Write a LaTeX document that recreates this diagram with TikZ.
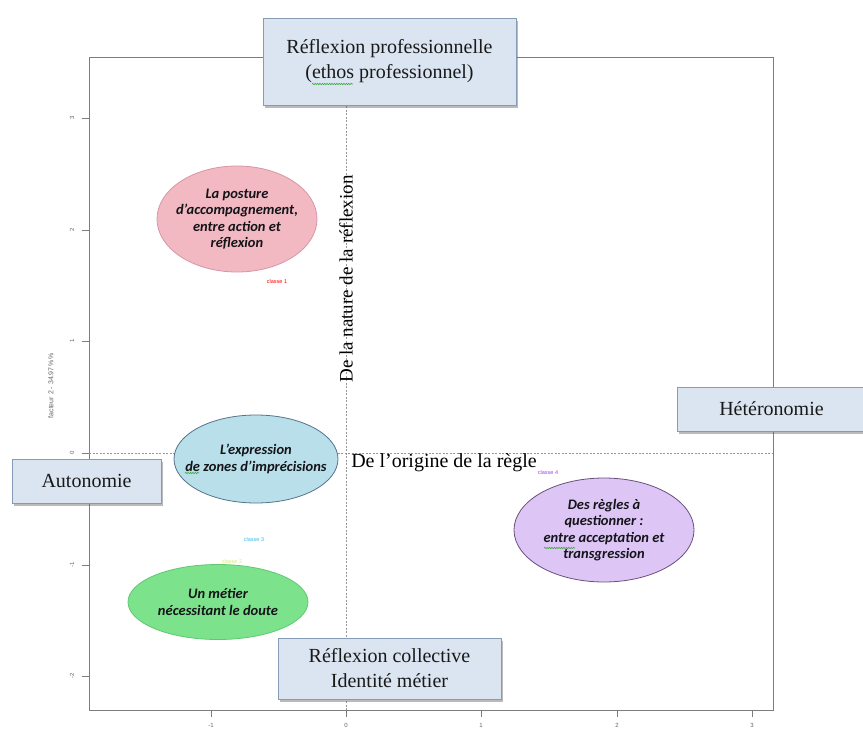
\documentclass[tikz,border=0pt]{standalone}
\usepackage{fontspec}
\setmainfont{Liberation Serif}
\newfontfamily\calib{Carlito}
\newfontfamily\axfont{Liberation Sans}
\usetikzlibrary{shapes.geometric,shadows,decorations.pathmorphing}
\definecolor{boxfill}{RGB}{219,229,241}
\definecolor{boxline}{RGB}{135,155,182}
\definecolor{framecol}{RGB}{125,125,125}
\definecolor{dashcol}{RGB}{150,150,150}
\definecolor{pinkfill}{RGB}{242,185,195}
\definecolor{pinkline}{RGB}{215,150,165}
\definecolor{bluefill}{RGB}{185,224,234}
\definecolor{blueline}{RGB}{85,115,140}
\definecolor{greenfill}{RGB}{125,226,140}
\definecolor{greenline}{RGB}{95,200,115}
\definecolor{purplefill}{RGB}{221,197,246}
\definecolor{purpleline}{RGB}{105,80,125}
\definecolor{squig}{RGB}{60,170,60}
\definecolor{ellText}{RGB}{20,20,25}
\definecolor{classfour}{RGB}{160,70,230}
\begin{document}
\begin{tikzpicture}[x=1pt,y=-1pt,
  labelbox/.style={rectangle, draw=boxline, line width=1pt, fill=boxfill,
    drop shadow={shadow xshift=1.5pt, shadow yshift=-2.5pt, opacity=0.45, fill=black!60},
    font=\fontsize{20}{25}\selectfont, align=center, inner sep=0pt, text=black!90},
  axistext/.style={font=\fontsize{19}{23}\selectfont, text=black, inner sep=0pt},
  blob/.style={ellipse, inner sep=0pt, line width=0.8pt},
  blobtext/.style={inner sep=0pt, align=center, text=ellText,
    font=\calib\bfseries\itshape\fontsize{14.5}{16.5}\selectfont},
  classe/.style={font=\axfont\fontsize{5.5}{6}\selectfont, inner sep=0pt},
  ticklab/.style={font=\axfont\fontsize{6}{7}\selectfont, text=black!60, inner sep=0pt},
  tickmark/.style={draw=framecol, line width=0.8pt},
  squiggle/.style={draw=squig, line width=0.6pt, decorate, decoration={snake, amplitude=0.7pt, segment length=2.4pt}}
  ]
\useasboundingbox (0,0) rectangle (863,729);
\fill[white] (0,0) rectangle (863,729);

% plot frame and zero lines
\draw[framecol, line width=1pt] (89,57) rectangle (773,710);
\draw[dashcol, line width=0.6pt, dash pattern=on 2pt off 1.5pt] (89,453) -- (773,453);
\draw[dashcol, line width=0.6pt, dash pattern=on 2pt off 1.5pt] (346,57) -- (346,710);

% ticks
\foreach \y/\l/\n in {118/3/a,230/2/b,341/1/c,453/0/d,565/-1/e,676/-2/f}{
  \draw[tickmark] (89,\y) -- (82,\y);
  \node[ticklab, rotate=90] (yt\n) at (72,\y) {\l};
}
\foreach \x/\l/\n in {211/-1/a,346/0/b,481/1/c,617/2/d,752/3/e}{
  \draw[tickmark] (\x,710) -- (\x,717);
  \node[ticklab] (xt\n) at (\x,725) {\l};
}
\node[ticklab, rotate=90, font=\axfont\fontsize{7}{8}\selectfont] (ylab) at (51,386) {facteur 2 - 34.97\,\%\%};

% class labels
\node[classe, text=red] (c1) at (277,282) {classe 1};
\node[classe, text=cyan!80!white] (c3) at (254,540) {classe 3};
\node[classe, text=yellow!70!green!55!white] (c2) at (232,562) {classe 2};
\node[classe, text=classfour] (c4) at (548,473) {classe 4};

% ellipses
\node[blob, fill=pinkfill, draw=pinkline, minimum width=160pt, minimum height=106pt] (e1) at (237,219) {};
\node[blobtext] (t1) at (e1.center) {La posture\\d’accompagnement,\\entre action et\\réflexion};
\node[blob, fill=bluefill, draw=blueline, minimum width=164pt, minimum height=88pt] (e3) at (256,459) {};
\node[blobtext] (t3) at (e3.center) {L’expression\\de zones d’imprécisions};
\node[blob, fill=greenfill, draw=greenline, minimum width=180pt, minimum height=75pt] (e2) at (218,602) {};
\node[blobtext] (t2) at (e2.center) {Un métier\\nécessitant le doute};
\node[blob, fill=purplefill, draw=purpleline, minimum width=180pt, minimum height=104pt] (e4) at (604,530) {};
\node[blobtext] (t4) at (e4.center) {Des règles à\\questionner :\\entre acceptation et\\transgression};
\draw[squiggle] (185,473) -- (199,473);
\draw[squiggle] (544,548) -- (575,548);

% axis titles
\node[axistext, rotate=90] (vt) at (346,279) {De la nature de la réflexion};
\node[axistext, font=\fontsize{20}{24}\selectfont] (ht) at (444,463) {De l’origine de la règle};

% pole boxes
\node[labelbox, minimum width=253pt, minimum height=87pt] (top) at (389.5,61.5)
  {Réflexion professionnelle\\(ethos professionnel)};
\draw[squiggle] (312,84) -- (353,84);
\node[labelbox, minimum width=149pt, minimum height=44pt] (left) at (86.5,481) {Autonomie};
\node[labelbox, minimum width=189pt, minimum height=44pt] (right) at (771.5,409) {Hétéronomie};
\node[labelbox, minimum width=223pt, minimum height=61pt] (bottom) at (389.5,668.5)
  {Réflexion collective\\Identité métier};
\end{tikzpicture}
\end{document}
